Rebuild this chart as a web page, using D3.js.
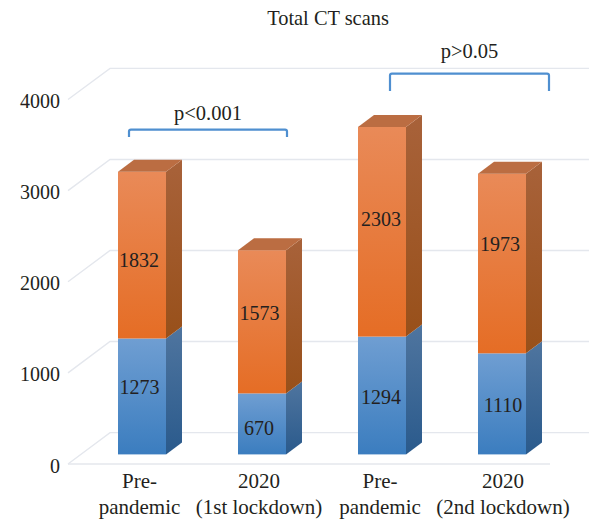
<!DOCTYPE html>
<html><head><meta charset="utf-8">
<script src="https://cdnjs.cloudflare.com/ajax/libs/d3/7.8.5/d3.min.js"></script>
<style>
html,body{margin:0;padding:0;background:#fff}
text{font-family:"Liberation Serif",serif;fill:#231f20}
</style></head><body>
<svg id="c" width="589" height="521"></svg>
<script>
const title = "Total CT scans";
const categories = [["Pre-","pandemic"],["2020","(1st lockdown)"],["Pre-","pandemic"],["2020","(2nd lockdown)"]];
const blueValues = [1273, 670, 1294, 1110];
const orangeValues = [1832, 1573, 2303, 1973];
const yTicks = [0, 1000, 2000, 3000, 4000];
const bracketLabels = ["p<0.001","p>0.05"];

const svg = d3.select("#c");
const W = 589, H = 521;
const depthX = 42, depthY = 31;
const barDX = 16, barDY = 12;
// hand placement of the labels relative to the segment centre, as in the reference
const blueNudge = [[-2.5,-2],[-3,11],[-1,9],[1,8]];
const orangeNudge = [[-3,12],[-2.5,-1.5],[-1,-6],[-2,-13]];
const catNudge = [-2.5,-3,-2,1];
const bracketLayout = [{a:[0,11],b:[1,49],top:129.6,bottom:137,textY:120},{a:[2,32],b:[3,71],top:73.6,bottom:91,textY:58}];

const yBack = d3.scaleLinear().domain([0,4000]).range([432.6,68.4]);
const yFront = d3.scaleLinear().domain([0,4000]).range([464,99.5]);
const yBar = d3.scaleLinear().domain([0,4000]).range([454.4,90.2]);
const x = d3.scaleBand().domain(d3.range(4)).range([82,562]).paddingInner(0.6).paddingOuter(0.3);
const defs = svg.append("defs");
function grad(id,stops){
  const g = defs.append("linearGradient").attr("id",id).attr("x1",0).attr("y1",0).attr("x2",0).attr("y2",1);
  stops.forEach((c,i)=>g.append("stop").attr("offset",i/(stops.length-1)).attr("stop-color",c));
}
grad("oF",["#e98a58","#e56d25"]);
grad("oS",["#a8623a","#98501a"]);
grad("bF",["#6f9ed2","#3b7dbf"]);
grad("bS",["#4f759f","#2a5a8c"]);

// wall and floor gridlines
const grid = svg.append("g").attr("fill","none").attr("stroke","#e4e7ed").attr("stroke-width",1.4);
yTicks.forEach(t=>{
  grid.append("path").attr("d",d3.line()([[68,yFront(t)],[68+depthX,yBack(t)],[W,yBack(t)]]));
});
grid.append("path").attr("d",d3.line()([[68,yFront(0)],[550,yFront(0)]]));

// axes (text only)
const yAxis = svg.append("g").attr("transform","translate(60,0)")
  .call(d3.axisLeft(yFront).tickValues(yTicks).tickSize(0).tickPadding(0).tickFormat(d3.format("d")));
yAxis.select(".domain").remove();
yAxis.selectAll("text").attr("dy","0.4em").style("font-family",'"Liberation Serif",serif').style("font-size","20px").style("fill","#231f20");

const xAxis = svg.append("g").attr("transform","translate(0,470)")
  .call(d3.axisBottom(x).tickSize(0).tickPadding(0).tickFormat(()=>""));
xAxis.select(".domain").remove();
xAxis.selectAll("text").each(function(d){
  const t = d3.select(this).attr("y",0).attr("dy",null)
    .style("font-family",'"Liberation Serif",serif').style("font-size","21px").style("fill","#231f20");
  categories[d].forEach((line,i)=>{
    t.append("tspan").attr("x",catNudge[d]).attr("y",i===0?18:44).text(line);
  });
});

// bars
const bw = x.bandwidth();
function box(g,i,v0,v1,f,s){
  const x0 = x(i), x1 = x0+bw, y0 = yBar(v0), y1 = yBar(v1);
  g.append("path").attr("fill",`url(#${s})`)
    .attr("d",d3.line()([[x1,y1],[x1+barDX,y1-barDY],[x1+barDX,y0-barDY],[x1,y0]]));
  g.append("rect").attr("x",x0).attr("y",y1).attr("width",bw).attr("height",y0-y1).attr("fill",`url(#${f})`);
}
const bars = svg.append("g");
categories.forEach((c,i)=>{
  const g = bars.append("g");
  const a = blueValues[i], b = a+orangeValues[i];
  box(g,i,0,a,"bF","bS");
  box(g,i,a,b,"oF","oS");
  const x0=x(i), x1=x0+bw, yt=yBar(b);
  g.append("path").attr("fill","#bb6d42")
    .attr("d",d3.line()([[x0,yt],[x0+barDX,yt-barDY],[x1+barDX,yt-barDY],[x1,yt]]));
  const cx = x0+bw/2;
  g.append("text").attr("x",cx+blueNudge[i][0]).attr("y",(yBar(0)+yBar(a))/2+blueNudge[i][1]).attr("text-anchor","middle").style("font-size","20px").text(a);
  g.append("text").attr("x",cx+orangeNudge[i][0]).attr("y",(yBar(a)+yBar(b))/2+orangeNudge[i][1]).attr("text-anchor","middle").style("font-size","20px").text(orangeValues[i]);
});

// title
svg.append("text").attr("x",328).attr("y",25).attr("text-anchor","middle").style("font-size","20.4px").text(title);

// brackets
bracketLayout.forEach((b,k)=>{
  const xa = x(b.a[0])+b.a[1], xb = x(b.b[0])+b.b[1];
  const top = b.top, bottom = b.bottom;
  svg.append("path").attr("fill","none").attr("stroke","#4f8fd0").attr("stroke-width",2.2)
    .attr("d",`M${xa},${bottom}V${top+2}Q${xa},${top} ${xa+2},${top}H${xb-2}Q${xb},${top} ${xb},${top+2}V${bottom}`);
  svg.append("text").attr("x",(xa+xb)/2).attr("y",b.textY).attr("text-anchor","middle").style("font-size","20.5px").text(bracketLabels[k]);
});
</script></body></html>
